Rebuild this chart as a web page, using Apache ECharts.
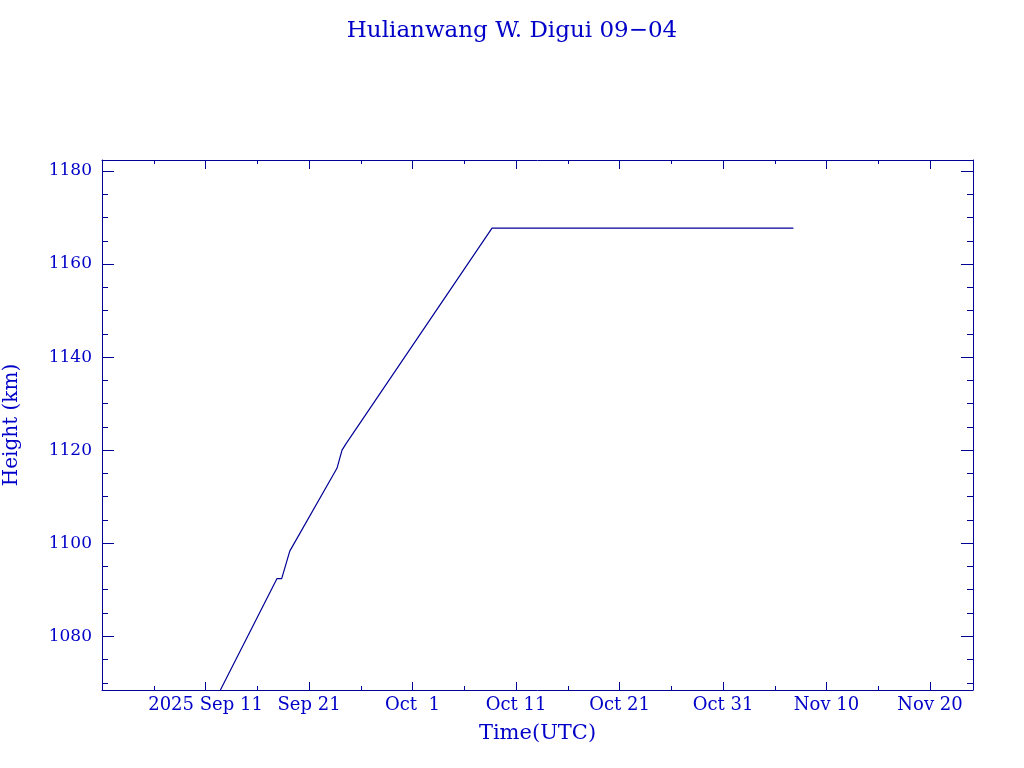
<!DOCTYPE html>
<html>
<head>
<meta charset="utf-8">
<script src="https://cdn.jsdelivr.net/npm/echarts@6/dist/echarts.min.js"></script>
<style>html,body{margin:0;padding:0;background:#fff;}#c{width:1024px;height:768px;}</style>
</head>
<body>
<div id="c"></div>
<script>
// ---- data ----
const titleText = 'Hulianwang W. Digui 09\u221204';
const times = ['2025-09-12 10:34','2025-09-17 21:50','2025-09-18 08:38','2025-09-19 03:22','2025-09-23 16:48','2025-09-24 04:34','2025-09-24 13:12','2025-10-08 16:19','2025-11-06 19:12'];
const heights = [1068.45, 1092.4, 1092.4, 1098.3, 1116.1, 1120.0, 1121.3, 1167.7, 1167.7];
const xMajorDays = [10, 20, 30, 40, 50, 60, 70, 80];
const xMinorDays = [5, 15, 25, 35, 45, 55, 65, 75];
const yMajor = [1080, 1100, 1120, 1140, 1160, 1180];
const yMinor = [1070, 1075, 1085, 1090, 1095, 1105, 1110, 1115, 1125, 1130, 1135, 1145, 1150, 1155, 1165, 1170, 1175];
const monthNames = ['Jan','Feb','Mar','Apr','May','Jun','Jul','Aug','Sep','Oct','Nov','Dec'];

const origin = Date.UTC(2025, 8, 1);
const DAY = 86400000;
function toDay(s) {
  const [d, t] = s.split(' ');
  const [Y, M, D] = d.split('-').map(Number);
  const [h, m] = t.split(':').map(Number);
  return (Date.UTC(Y, M - 1, D, h, m) - origin) / DAY;
}
const seriesData = times.map((t, i) => [toDay(t), heights[i]]);

function fmtX(v) {
  const d = new Date(origin + Math.round(v) * DAY);
  const day = d.getUTCDate();
  const dd = day < 10 ? ' ' + day : '' + day;
  let s = monthNames[d.getUTCMonth()] + ' ' + dd;
  if (Math.round(v) === xMajorDays[0]) s = d.getUTCFullYear() + ' ' + s;
  return s;
}

const AX = '#000096';
const TXT = '#0000c8';
const FONT = 'DejaVu Serif';
const xMin = 0, xMax = 84.15, yMin = 1068.45, yMax = 1182.36;

function xAx(pos, vals, len, labels, line) {
  return {
    type: 'value', position: pos, min: xMin, max: xMax, offset: 0,
    axisLine: { show: line, onZero: false, lineStyle: { color: AX, width: 1 } },
    axisTick: { show: true, inside: true, length: len, customValues: vals, lineStyle: { color: AX, width: 1 } },
    axisLabel: labels ? { show: true, customValues: vals, formatter: fmtX, color: TXT, fontFamily: FONT, fontSize: 18, margin: 6 } : { show: false },
    splitLine: { show: false }
  };
}
function yAx(pos, vals, len, labels, line) {
  return {
    type: 'value', position: pos, min: yMin, max: yMax, offset: 0,
    axisLine: { show: line, onZero: false, lineStyle: { color: AX, width: 1 } },
    axisTick: { show: true, inside: true, length: len, customValues: vals, lineStyle: { color: AX, width: 1 } },
    axisLabel: labels ? { show: true, customValues: vals, formatter: v => String(v), color: TXT, fontFamily: FONT, fontSize: 17, margin: 10 } : { show: false },
    splitLine: { show: false }
  };
}

const xAxes = [
  Object.assign(xAx('bottom', xMajorDays, 8, true, true), {
    name: 'Time(UTC)', nameLocation: 'middle', nameGap: 33,
    nameTextStyle: { color: TXT, fontFamily: FONT, fontSize: 21 }
  }),
  xAx('bottom', xMinorDays, 4, false, false),
  xAx('top', xMajorDays, 9, false, true),
  xAx('top', xMinorDays, 4, false, false)
];
const yAxes = [
  Object.assign(yAx('left', yMajor, 12, true, true), {
    name: 'Height (km)', nameLocation: 'middle', nameGap: 80, nameRotate: 90,
    nameTextStyle: { color: TXT, fontFamily: FONT, fontSize: 20 }
  }),
  yAx('left', yMinor, 6, false, false),
  yAx('right', yMajor, 12, false, true),
  yAx('right', yMinor, 6, false, false)
];

const chart = echarts.init(document.getElementById('c'), null, { renderer: 'canvas' });
chart.setOption({
  animation: false,
  backgroundColor: '#ffffff',
  title: {
    text: titleText, left: 'center', top: 15,
    textStyle: { color: TXT, fontFamily: FONT, fontSize: 23, fontWeight: 'normal' }
  },
  grid: { left: 102, right: 51, top: 160, bottom: 78, containLabel: false, outerBoundsMode: 'none' },
  xAxis: xAxes,
  yAxis: yAxes,
  series: [{
    type: 'line', xAxisIndex: 0, yAxisIndex: 0, data: seriesData,
    showSymbol: false, symbol: 'none', clip: true,
    lineStyle: { color: AX, width: 1.2 }
  }]
});
</script>
</body>
</html>
